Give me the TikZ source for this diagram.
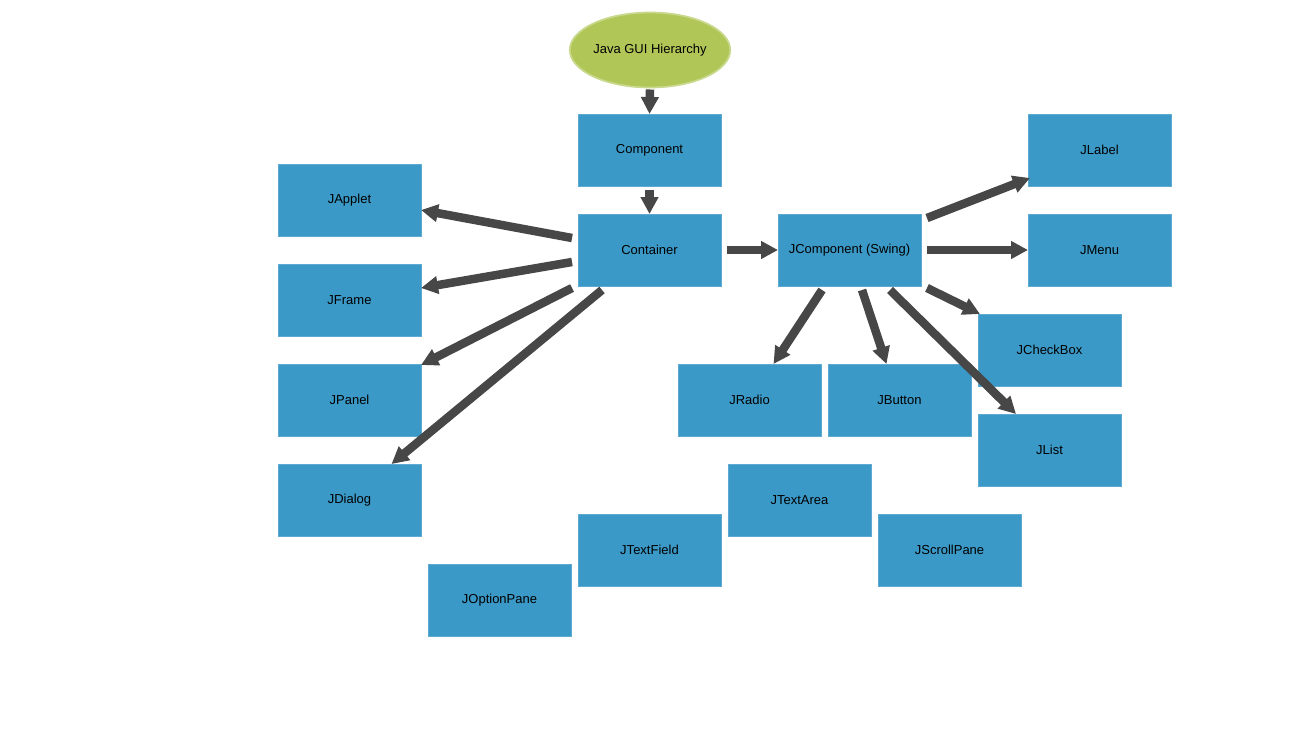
\documentclass[tikz,border=0pt]{standalone}
\usepackage{fontspec}
\setmainfont{Liberation Sans}
\usetikzlibrary{arrows.meta,shapes.geometric}
\definecolor{boxblue}{RGB}{59,153,199}
\definecolor{boxedge}{RGB}{95,170,210}
\definecolor{topgreen}{RGB}{176,199,88}
\definecolor{topedge}{RGB}{200,216,140}
\definecolor{arrowgray}{RGB}{71,71,71}
\begin{document}
\begin{tikzpicture}[x=0.02cm,y=-0.02cm,
  every node/.style={font=\fontsize{7.4}{9}\selectfont, inner sep=0pt, outer sep=0pt},
  cls/.style={fill=boxblue, draw=boxedge, line width=0.5pt, minimum width=2.86cm, minimum height=1.44cm},
  root/.style={ellipse, fill=topgreen, draw=topedge, line width=1pt, minimum width=2.82cm, minimum height=1.5cm},
  link/.style={draw=arrowgray, line width=0.17cm, -{Triangle[length=0.34cm,width=0.34cm]}}]
\useasboundingbox (0,0) rectangle (1300,750);
% top of the tree
\node[root] (gui) at (650,50) {Java GUI Hierarchy};
\node[cls] (comp) at (649.5,150) {Component};
\node[cls] (cont) at (649.5,250) {Container};
\node[cls] (jcomp) at (849.5,250) {JComponent (Swing)};
% containers
\node[cls] (applet) at (349.5,200) {JApplet};
\node[cls] (frame) at (349.5,300) {JFrame};
\node[cls] (panel) at (349.5,400) {JPanel};
\node[cls] (dialog) at (349.5,500) {JDialog};
% swing components
\node[cls] (label) at (1099.5,150) {JLabel};
\node[cls] (menu) at (1099.5,250) {JMenu};
\node[cls] (check) at (1049.5,350) {JCheckBox};
\node[cls] (list) at (1049.5,450) {JList};
\node[cls] (radio) at (749.5,400) {JRadio};
\node[cls] (button) at (899.5,400) {JButton};
\node[cls] (textarea) at (799.5,500) {JTextArea};
\node[cls] (textfield) at (649.5,550) {JTextField};
\node[cls] (scroll) at (949.5,550) {JScrollPane};
\node[cls] (option) at (499.5,600) {JOptionPane};
% arrows
\draw[link] ([shift={(0,2)}]gui.south) -- (comp.north);
\draw[link] ([shift={(0,4)}]comp.south) -- (cont.north);
\draw[link] ([shift={(-6,24)}]cont.north west) -- ([shift={(0,10)}]applet.east);
\draw[link] ([shift={(-6,12)}]cont.west) -- ([shift={(0,-12)}]frame.east);
\draw[link] ([shift={(-6,2)}]cont.south west) -- ([shift={(0,-35)}]panel.east);
\draw[link] ([shift={(24,4)}]cont.south west) -- ([shift={(42,0)}]dialog.north);
\draw[link] ([shift={(6,0)}]cont.east) -- (jcomp.west);
\draw[link] ([shift={(6,4)}]jcomp.north east) -- ([shift={(2,-8)}]label.south west);
\draw[link] ([shift={(6,0)}]jcomp.east) -- (menu.west);
\draw[link] ([shift={(6,2)}]jcomp.south east) -- ([shift={(2,0)}]check.north west);
\draw[link] ([shift={(44,4)}]jcomp.south west) -- ([shift={(24,0)}]radio.north);
\draw[link] ([shift={(84,4)}]jcomp.south west) -- ([shift={(-13,0)}]button.north);
\draw[link] ([shift={(112,4)}]jcomp.south west) -- ([shift={(38,0)}]list.north west);
\end{tikzpicture}
\end{document}
